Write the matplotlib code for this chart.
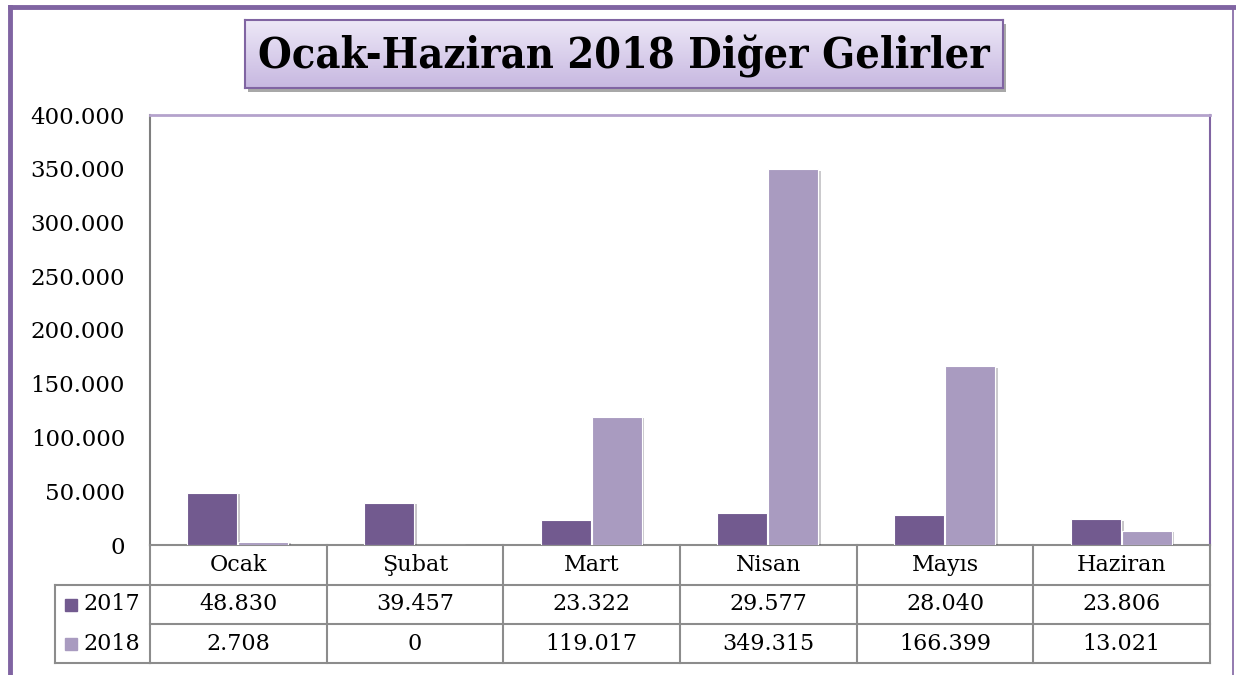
import matplotlib
matplotlib.use('Agg')
import matplotlib.pyplot as plt
import matplotlib.patheffects as pe
from matplotlib.lines import Line2D
from matplotlib.transforms import blended_transform_factory
import numpy as np

months = ['Ocak', 'Şubat', 'Mart', 'Nisan', 'Mayıs', 'Haziran']
years = ['2017', '2018']
vals_2017 = [48830, 39457, 23322, 29577, 28040, 23806]
vals_2018 = [2708, 0, 119017, 349315, 166399, 13021]
yticks = [0, 50000, 100000, 150000, 200000, 250000, 300000, 350000, 400000]
title = 'Ocak-Haziran 2018 Diğer Gelirler'

c2017 = '#725a8f'
c2018 = '#a99bc0'
frame = '#8064a2'
grid_grey = '#8c8c8c'

W, H = 1236, 675
plt.rcParams['font.family'] = ['DejaVu Serif']


def box(x0, y0, x1, y1):
    return [x0 / W, 1 - y1 / H, (x1 - x0) / W, (y1 - y0) / H]


def fmt(v):
    return '{:,.0f}'.format(v).replace(',', '.')


fig = plt.figure(figsize=(W / 100, H / 100), dpi=100)

# outer frame
fig.add_artist(Line2D([10 / W, 10 / W], [0, 1 - 7 / H], color=frame, lw=3.5,
                      transform=fig.transFigure))
fig.add_artist(Line2D([10 / W, 1234 / W], [1 - 7 / H, 1 - 7 / H], color=frame,
                      lw=3.5, transform=fig.transFigure))
fig.add_artist(Line2D([1233 / W, 1233 / W], [0, 1 - 7 / H], color=frame, lw=1.2,
                      transform=fig.transFigure))

# main plot
ax = fig.add_axes(box(150, 115, 1210, 545))
x = np.arange(len(months))
bw = 0.283
shadow = [pe.SimplePatchShadow(offset=(2, -1), alpha=0.25), pe.Normal()]
b1 = ax.bar(x - bw / 2 - 0.005, vals_2017, bw, color=c2017, edgecolor='white',
            lw=0.8, zorder=3)
b2 = ax.bar(x + bw / 2, vals_2018, bw, color=c2018, edgecolor='white',
            lw=0.8, zorder=3)
for b in list(b1) + list(b2):
    b.set_path_effects(shadow)

ax.set_xlim(-0.5, len(months) - 0.5)
ax.set_ylim(0, 400000)
ax.set_yticks(yticks)
ax.set_yticklabels([fmt(v) for v in yticks], fontsize=16.5)
ax.tick_params(axis='y', length=0, pad=18)
ax.set_xticks([])
ax.spines['left'].set_color('#7f7f7f')
ax.spines['left'].set_linewidth(1.5)
ax.spines['left'].set_path_effects([pe.SimplePatchShadow(offset=(1.5, -1), alpha=0.3),
                                    pe.Normal()])
ax.spines['bottom'].set_color(grid_grey)
ax.spines['bottom'].set_linewidth(1.5)
ax.spines['top'].set_color('#b4a2cc')
ax.spines['top'].set_linewidth(2)
ax.spines['right'].set_color(frame)
ax.spines['right'].set_linewidth(1.5)

# data table under the plot
tr = blended_transform_factory(ax.transData, ax.transAxes)
ah = 430.0
rows = [0, -40 / ah, -79 / ah, -118 / ah]
left = -95 / 1060.0
lkw = dict(color=grid_grey, lw=1.5, clip_on=False)
for i in range(len(months) + 1):
    ax.plot([i - 0.5, i - 0.5], [rows[0], rows[-1]], transform=tr, **lkw)
ax.plot([left, left], [rows[1], rows[-1]], transform=ax.transAxes, **lkw)
ax.plot([left, 0], [rows[1], rows[1]], transform=ax.transAxes, **lkw)
ax.plot([left, 0], [rows[-1], rows[-1]], transform=ax.transAxes, **lkw)
for r in rows[1:]:
    ax.plot([-0.5, len(months) - 0.5], [r, r], transform=tr, **lkw)

for i, m in enumerate(months):
    ax.text(i, (rows[0] + rows[1]) / 2, m, transform=tr, ha='center',
            va='center', fontsize=16)
table_vals = [vals_2017, vals_2018]
colors = [c2017, c2018]
for k, yr in enumerate(years):
    yc = (rows[k + 1] + rows[k + 2]) / 2
    ax.plot([left + 16 / 1060], [yc], marker='s', ms=9, color=colors[k],
            transform=ax.transAxes, clip_on=False)
    ax.text(left + 28 / 1060, yc, yr, transform=ax.transAxes, ha='left',
            va='center', fontsize=16)
    for i, v in enumerate(table_vals[k]):
        ax.text(i, yc, fmt(v), transform=tr, ha='center', va='center',
                fontsize=16)

# title box with gradient
tax = fig.add_axes(box(245, 20, 1003, 88))
sh = fig.add_axes(box(248, 24, 1006, 92), zorder=-1)
sh.set_facecolor('#a8a8a8')
sh.set_xticks([])
sh.set_yticks([])
for s in sh.spines.values():
    s.set_visible(False)
grad = np.linspace(0, 1, 100).reshape(-1, 1)
top_c = np.array([0.93, 0.91, 0.97])
bot_c = np.array([0.78, 0.72, 0.88])
img = top_c + grad[:, :, None] * (bot_c - top_c)
tax.imshow(img, aspect='auto', extent=[0, 1, 0, 1], origin='upper')
tax.set_xticks([])
tax.set_yticks([])
for s in tax.spines.values():
    s.set_color(frame)
    s.set_linewidth(1.5)
tax.text(0.5, 0.47, title, transform=tax.transAxes, ha='center', va='center',
         fontsize=31, fontweight='bold', fontstretch='condensed')

fig.savefig('out.png', dpi=100)
